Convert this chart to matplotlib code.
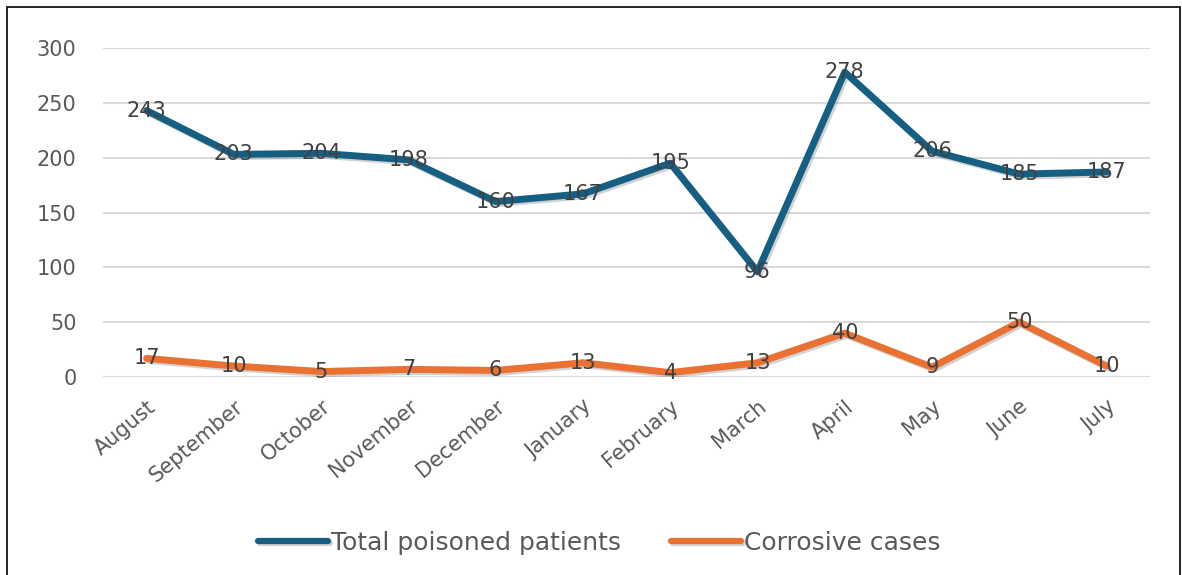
import matplotlib.pyplot as plt
import matplotlib.patheffects as pe
from matplotlib.patches import Rectangle

# data
months = ["August", "September", "October", "November", "December", "January",
          "February", "March", "April", "May", "June", "July"]
total_poisoned = [243, 203, 204, 198, 160, 167, 195, 96, 278, 206, 185, 187]
corrosive = [17, 10, 5, 7, 6, 13, 4, 13, 40, 9, 50, 10]
y_ticks = [0, 50, 100, 150, 200, 250, 300]

plt.rcParams['font.family'] = ['DejaVu Sans']

fig = plt.figure(figsize=(11.82, 5.75), dpi=100)
ax = fig.add_axes([0.0871, 0.3443, 0.886, 0.5722])

x = list(range(len(months)))
shadow = [pe.SimpleLineShadow(offset=(1.5, -1.5), shadow_color='gray', alpha=0.35), pe.Normal()]
ax.plot(x, total_poisoned, color='#156082', linewidth=5, solid_capstyle='round',
        label="Total poisoned patients", path_effects=shadow, zorder=3)
ax.plot(x, corrosive, color='#E97132', linewidth=5, solid_capstyle='round',
        label="Corrosive cases", path_effects=shadow, zorder=3)

# data labels centred on the points
for xi, v in zip(x, total_poisoned):
    ax.text(xi, v, str(v), ha='center', va='center', fontsize=15, color='#404040', zorder=4)
for xi, v in zip(x, corrosive):
    ax.text(xi, v, str(v), ha='center', va='center', fontsize=15, color='#404040', zorder=4)

ax.set_xlim(-0.5, len(months) - 0.5)
ax.set_ylim(0, 300)
ax.set_yticks(y_ticks)
ax.set_xticks(x)
ax.set_xticklabels(months, rotation=40, ha='right', rotation_mode='anchor')
ax.tick_params(axis='both', length=0, labelsize=15, labelcolor='#595959')
ax.tick_params(axis='y', pad=19)
ax.tick_params(axis='x', pad=14)
ax.grid(axis='y', color='#d9d9d9', linewidth=1.5)
ax.set_axisbelow(True)
for s in ax.spines.values():
    s.set_visible(False)

leg = fig.legend(loc='center', bbox_to_anchor=(0.507, 0.0557), ncol=2, frameon=False,
                 fontsize=18, handlelength=2.8, handletextpad=0.12, columnspacing=2.0)
for t in leg.get_texts():
    t.set_color('#595959')
for h in leg.get_lines():
    h.set_linewidth(4.5)

# outer frame of the chart
fig.patches.append(Rectangle((7 / 1182, -0.01), (1180 - 7) / 1182, 1.01 - 7 / 575,
                             transform=fig.transFigure, fill=False, edgecolor='black',
                             linewidth=1.2))

fig.savefig("out.png", dpi=100)
